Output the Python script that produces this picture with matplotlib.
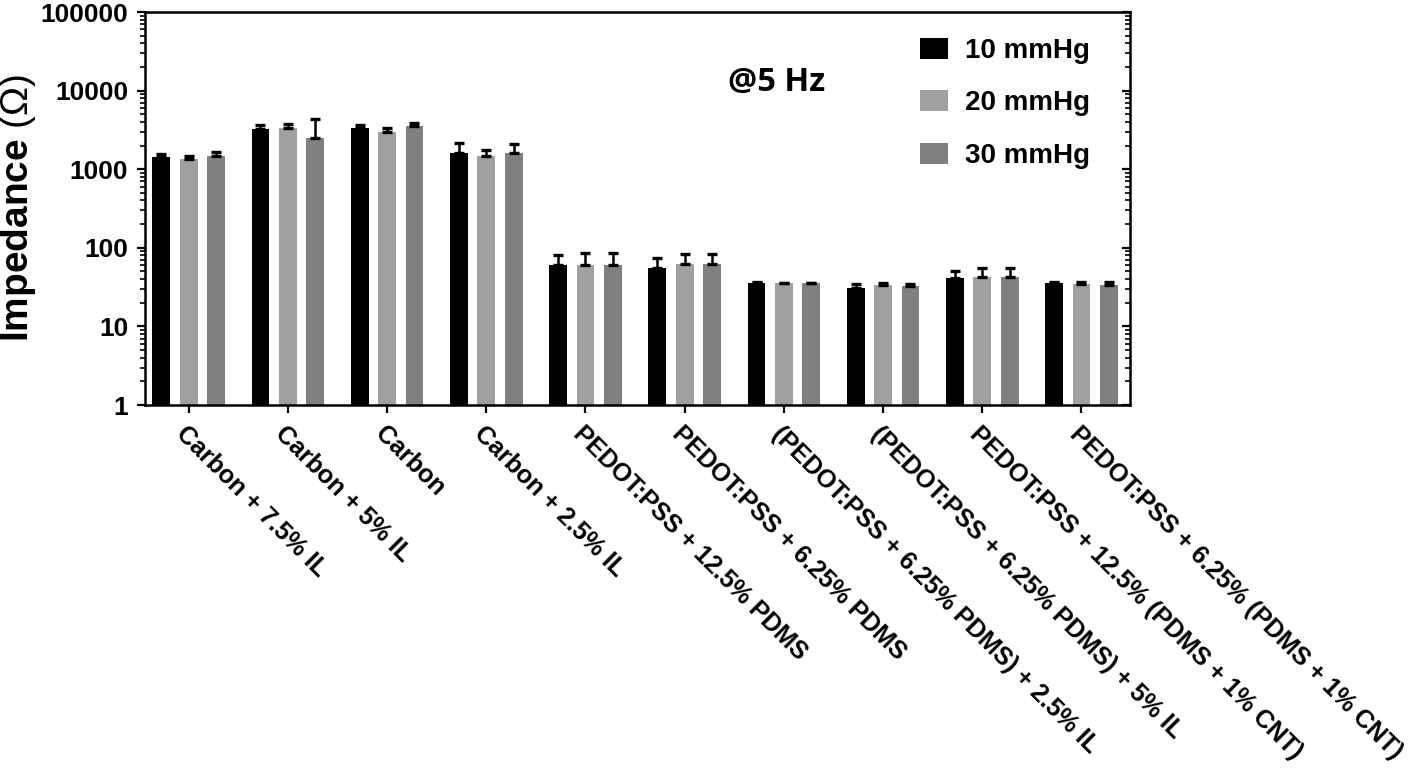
import matplotlib
matplotlib.use("Agg")
import matplotlib.pyplot as plt
import numpy as np

plt.rcParams["mathtext.fontset"] = "custom"
plt.rcParams["mathtext.bf"] = "Liberation Sans:bold"
plt.rcParams["mathtext.rm"] = "Liberation Sans"

categories = [
    "Carbon + 7.5% IL",
    "Carbon + 5% IL",
    "Carbon",
    "Carbon + 2.5% IL",
    "PEDOT:PSS + 12.5% PDMS",
    "PEDOT:PSS + 6.25% PDMS",
    "(PEDOT:PSS + 6.25% PDMS) + 2.5% IL",
    "(PEDOT:PSS + 6.25% PDMS) + 5% IL",
    "PEDOT:PSS + 12.5% (PDMS + 1% CNT)",
    "PEDOT:PSS + 6.25% (PDMS + 1% CNT)",
]
series_names = ["10 mmHg", "20 mmHg", "30 mmHg"]

mean_10 = [1420, 3220, 3370, 1620, 60.4, 54.8, 35.3, 31.1, 40.9, 35.3]
mean_20 = [1360, 3370, 3000, 1485, 60.0, 62.8, 35.3, 33.6, 42.5, 34.3]
mean_30 = [1485, 2470, 3545, 1620, 60.0, 62.8, 35.3, 32.4, 42.5, 33.6]

err_10 = [140, 430, 310, 535, 20.6, 18.7, 1.4, 3.5, 9.4, 1.4]
err_20 = [100, 390, 300, 270, 25.0, 20.6, 0.7, 1.7, 12.3, 2.4]
err_30 = [170, 1880, 295, 474, 25.0, 20.6, 0.7, 2.6, 12.3, 3.1]

colors = ["#000000", "#a0a0a0", "#808080"]

fig = plt.figure(figsize=(14.16, 7.71), dpi=100)
ax = fig.add_axes([0.1024, 0.4747, 0.6957, 0.5097])

x = np.arange(len(categories))
width = 0.18
offset = 0.276
means = [mean_10, mean_20, mean_30]
errs = [err_10, err_20, err_30]
for i in range(3):
    pos = x + (i - 1) * offset
    m = np.array(means[i])
    e = np.array(errs[i])
    ax.bar(pos, m, width=width, color=colors[i], label=series_names[i], zorder=2)
    ax.errorbar(pos, m, yerr=[np.zeros_like(e), e], fmt="none", ecolor="black",
                elinewidth=1.8, capsize=3.5, capthick=2.4, zorder=3)

ax.set_yscale("log")
ax.set_ylim(1, 100000)
ax.set_xlim(-0.44, 9.49)
ax.set_yticks([1, 10, 100, 1000, 10000, 100000])
ax.set_yticklabels(["1", "10", "100", "1000", "10000", "100000"])
ax.set_xticks(x)
ax.set_xticklabels(categories, rotation=-45, ha="left", va="top",
                   rotation_mode="anchor", fontsize=18, fontweight="bold",
                   family="Liberation Sans")
for lab in ax.get_yticklabels():
    lab.set_fontsize(19)
    lab.set_fontweight("bold")
    lab.set_family("Liberation Sans")

for s in ax.spines.values():
    s.set_linewidth(1.8)

ax.tick_params(axis="y", which="major", direction="out", length=6, width=1.6, pad=6)
ax.tick_params(axis="y", which="minor", direction="out", length=3.5, width=1.2)
ax.tick_params(axis="x", which="major", direction="out", length=6, width=1.6, pad=6)

ax2 = ax.twinx()
ax2.set_yscale("log")
ax2.set_ylim(1, 100000)
ax2.tick_params(axis="y", which="major", direction="in", length=6, width=1.6, labelright=False)
ax2.tick_params(axis="y", which="minor", direction="in", length=3.5, width=1.2, labelright=False)
for s in ax2.spines.values():
    s.set_visible(False)

fig.text(18 / 1416, 1 - 208 / 771, r"$\mathbf{Impedance}$ (Ω)", fontsize=28,
         family="Liberation Sans", rotation=90, ha="center", va="center")

ax.text(0.592, 0.82, "@5 Hz", transform=ax.transAxes, fontsize=23.5, fontweight="bold",
        family="Open Sans", ha="left", va="center")

leg = ax.legend(loc="upper left", bbox_to_anchor=(0.787, 0.935), frameon=False,
                prop={"family": "Liberation Sans", "weight": "bold", "size": 20},
                handlelength=1.0, handleheight=0.79, handletextpad=0.6,
                labelspacing=0.95, borderpad=0, borderaxespad=0)

fig.savefig("out.png", dpi=100)
